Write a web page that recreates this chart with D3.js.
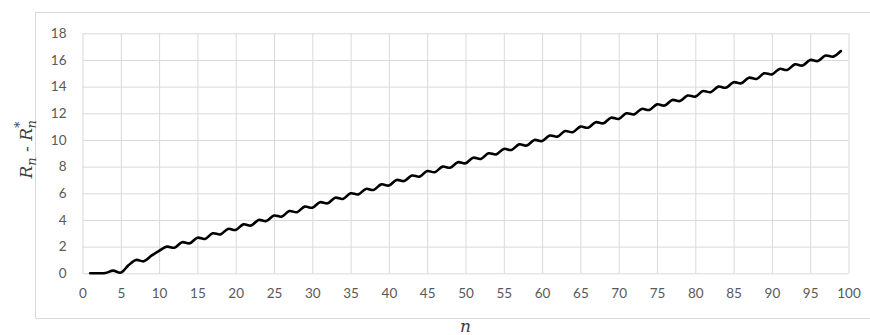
<!DOCTYPE html>
<html>
<head>
<meta charset="utf-8">
<script src="https://cdn.jsdelivr.net/npm/d3@7"></script>
<style>
  body { margin: 0; background: #fff; }
  svg { display: block; }
</style>
</head>
<body>
<svg id="chart" width="870" height="335"></svg>
<script>
// n values 1..99
const nValues = d3.range(1, 100);

// R_n - R*_n
const gapValues = [
  0, 0, 0.02, 0.2, 0.05, 0.6, 1.0, 0.9, 1.32, 1.68,
  2.0, 1.92, 2.33, 2.25, 2.67, 2.58, 3.0, 2.92, 3.33, 3.25,
  3.67, 3.58, 4.0, 3.92, 4.33, 4.25, 4.67, 4.58, 5.0, 4.92,
  5.33, 5.25, 5.67, 5.58, 6.0, 5.92, 6.33, 6.25, 6.67, 6.58,
  7.0, 6.92, 7.33, 7.25, 7.67, 7.58, 8.0, 7.92, 8.33, 8.25,
  8.67, 8.58, 9.0, 8.92, 9.33, 9.25, 9.67, 9.58, 10.0, 9.92,
  10.33, 10.25, 10.67, 10.58, 11.0, 10.92, 11.33, 11.25, 11.67, 11.58,
  12.0, 11.92, 12.33, 12.25, 12.67, 12.58, 13.0, 12.92, 13.33, 13.25,
  13.67, 13.58, 14.0, 13.92, 14.33, 14.25, 14.67, 14.58, 15.0, 14.92,
  15.33, 15.25, 15.67, 15.58, 16.0, 15.92, 16.33, 16.25, 16.67
];

const xTicks = d3.range(0, 101, 5);
const yTicks = d3.range(0, 19, 2);

const svg = d3.select('#chart');
const plot = { left: 82.5, right: 848.5, top: 33.3, bottom: 273.3 };

const x = d3.scaleLinear().domain([0, 100]).range([plot.left, plot.right]);
const y = d3.scaleLinear().domain([0, 18]).range([plot.bottom, plot.top]);

// outer chart frame
svg.append('rect')
  .attr('x', 35.5).attr('y', 12.5)
  .attr('width', 840).attr('height', 306)
  .attr('fill', 'none')
  .attr('stroke', '#d9d9d9');

// gridlines
svg.append('g')
  .attr('transform', `translate(0,${plot.bottom})`)
  .call(d3.axisBottom(x).tickValues(xTicks).tickSize(-(plot.bottom - plot.top)).tickFormat(''))
  .call(g => g.select('.domain').remove())
  .call(g => g.selectAll('line').attr('stroke', '#d9d9d9'));

svg.append('g')
  .attr('transform', `translate(${plot.left},0)`)
  .call(d3.axisLeft(y).tickValues(yTicks).tickSize(-(plot.right - plot.left)).tickFormat(''))
  .call(g => g.select('.domain').remove())
  .call(g => g.selectAll('line').attr('stroke', '#d9d9d9'));

// tick labels
svg.append('g')
  .attr('transform', `translate(0,${plot.bottom})`)
  .call(d3.axisBottom(x).tickValues(xTicks).tickSize(0).tickPadding(15))
  .call(g => g.select('.domain').remove())
  .call(g => g.selectAll('text')
    .attr('fill', '#595959')
    .style('font', '13.5px Lato, sans-serif'));

svg.append('g')
  .attr('transform', `translate(${plot.left},0)`)
  .call(d3.axisLeft(y).tickValues(yTicks).tickSize(0).tickPadding(16))
  .call(g => g.select('.domain').remove())
  .call(g => g.selectAll('text')
    .attr('fill', '#595959')
    .style('font', '13.5px Lato, sans-serif'));

// the series
const line = d3.line()
  .x((d, i) => x(nValues[i]))
  .y(d => y(d))
  .curve(d3.curveCatmullRom.alpha(0.5));

svg.append('path')
  .datum(gapValues)
  .attr('d', line)
  .attr('fill', 'none')
  .attr('stroke', '#000')
  .attr('stroke-width', 2.6)
  .attr('stroke-linejoin', 'round')
  .attr('stroke-linecap', 'round');

// axis titles
const serif = "'DejaVu Serif', 'Liberation Serif', serif";

svg.append('text')
  .attr('x', (plot.left + plot.right) / 2)
  .attr('y', 332)
  .attr('text-anchor', 'middle')
  .style('font', `italic 17px ${serif}`)
  .attr('fill', '#404040')
  .text('n');

const yTitle = svg.append('text')
  .attr('transform', `translate(32,${(plot.top + plot.bottom) / 2 - 4}) rotate(-90)`)
  .attr('text-anchor', 'middle')
  .style('font', `italic 17px ${serif}`)
  .attr('fill', '#404040');

yTitle.append('tspan').text('R');
yTitle.append('tspan').attr('dy', 4).style('font-size', '13px').text('n');
yTitle.append('tspan').attr('dy', -4).style('font-style', 'normal').text(' - ');
yTitle.append('tspan').text('R');
yTitle.append('tspan').attr('dy', -8).style('font-size', '13px').style('font-style', 'normal').text('*');
yTitle.append('tspan').attr('dx', -7).attr('dy', 12).style('font-size', '13px').text('n');
</script>
</body>
</html>
